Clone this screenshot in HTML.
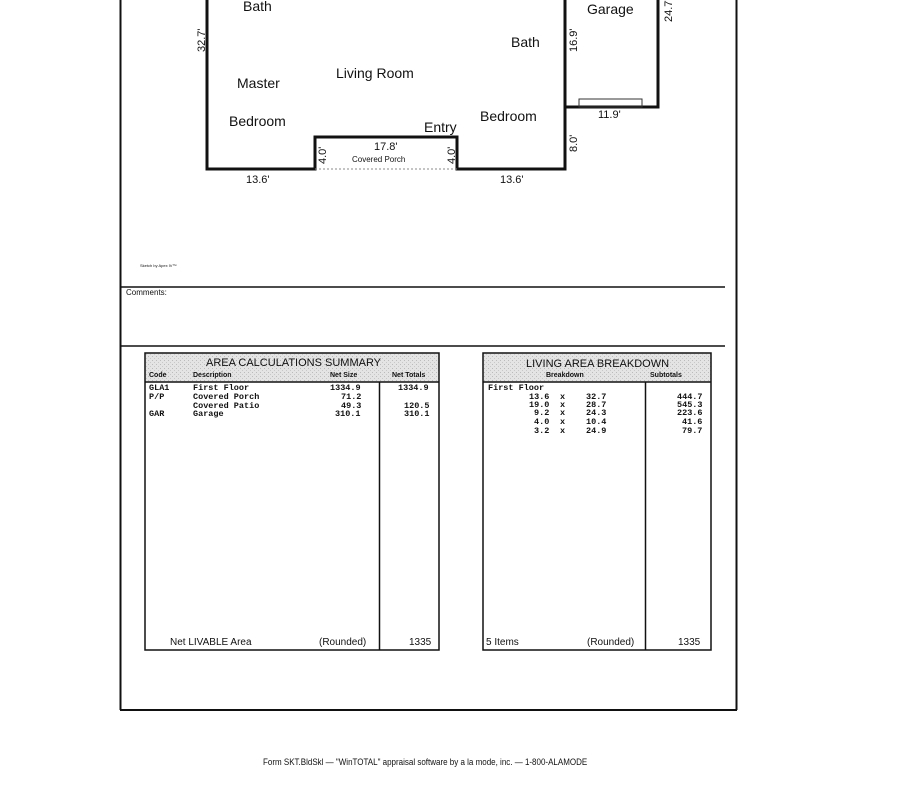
<!DOCTYPE html>
<html><head><meta charset="utf-8"><style>
html,body{margin:0;padding:0;background:#fff;}
svg{display:block;}
.s{font-family:"Liberation Sans",sans-serif;fill:#111;}
.m{font-family:"Liberation Mono",monospace;fill:#111;font-weight:bold;}
</style></head><body>
<svg width="900" height="787" viewBox="0 0 900 787" xmlns="http://www.w3.org/2000/svg">
<defs>
<pattern id="g" width="4" height="4" patternUnits="userSpaceOnUse"><rect width="4" height="4" fill="#e4e4e4"/><rect x="0" y="0" width="1" height="1" fill="#bbb"/><rect x="2" y="2" width="1" height="1" fill="#c8c8c8"/></pattern>
</defs>
<line x1="120.5" y1="0" x2="120.5" y2="710" stroke="#111" stroke-width="2"/>
<line x1="736.5" y1="0" x2="736.5" y2="710" stroke="#111" stroke-width="2"/>
<line x1="120" y1="710" x2="737" y2="710" stroke="#111" stroke-width="2"/>
<line x1="120" y1="287" x2="725" y2="287" stroke="#111" stroke-width="1.5"/>
<line x1="120" y1="346" x2="725" y2="346" stroke="#111" stroke-width="1.5"/>
<text class="s" x="140" y="267" font-size="4">Sketch by Apex IV™</text>
<text class="s" x="126" y="295" font-size="8">Comments:</text>
<polyline points="207,0 207,169 315,169 315,137 457,137 457,169 565,169 565,0" fill="none" stroke="#111" stroke-width="3"/>
<line x1="315" y1="169" x2="457" y2="169" stroke="#888" stroke-width="1" stroke-dasharray="2,2"/>
<polyline points="565,107 658,107 658,0" fill="none" stroke="#111" stroke-width="3"/>
<rect x="579" y="99" width="63" height="8" fill="none" stroke="#333" stroke-width="1"/>
<text class="s" x="243" y="11" font-size="14">Bath</text>
<text class="s" x="587" y="14" font-size="14">Garage</text>
<text class="s" x="511" y="47" font-size="14">Bath</text>
<text class="s" x="336" y="78" font-size="14">Living Room</text>
<text class="s" x="237" y="88" font-size="14">Master</text>
<text class="s" x="229" y="126" font-size="14">Bedroom</text>
<text class="s" x="480" y="121" font-size="14">Bedroom</text>
<text class="s" x="424" y="132" font-size="14">Entry</text>
<text class="s" x="374" y="150" font-size="11">17.8'</text>
<text class="s" x="352" y="162" font-size="8">Covered Porch</text>
<text class="s" x="246" y="183" font-size="11">13.6'</text>
<text class="s" x="500" y="183" font-size="11">13.6'</text>
<text class="s" x="598" y="118" font-size="11">11.9'</text>
<text class="s" font-size="11" transform="translate(205,52) rotate(-90)">32.7'</text>
<text class="s" font-size="11" transform="translate(326,164) rotate(-90)">4.0'</text>
<text class="s" font-size="11" transform="translate(455,164) rotate(-90)">4.0'</text>
<text class="s" font-size="11" transform="translate(577,52) rotate(-90)">16.9'</text>
<text class="s" font-size="11" transform="translate(577,152) rotate(-90)">8.0'</text>
<text class="s" font-size="11" transform="translate(672,22) rotate(-90)">24.7'</text>
<rect x="145" y="353" width="294" height="29" fill="url(#g)"/>
<rect x="145" y="353" width="294" height="297" fill="none" stroke="#111" stroke-width="1.5"/>
<line x1="145" y1="382" x2="439" y2="382" stroke="#111" stroke-width="1.5"/>
<line x1="379.5" y1="382" x2="379.5" y2="650" stroke="#111" stroke-width="1.5"/>
<text class="s" x="206" y="366" font-size="11">AREA  CALCULATIONS  SUMMARY</text>
<text class="s" x="149" y="377" font-size="7" font-weight="bold">Code</text>
<text class="s" x="193" y="377" font-size="7" font-weight="bold">Description</text>
<text class="s" x="330" y="377" font-size="7" font-weight="bold">Net Size</text>
<text class="s" x="392" y="377" font-size="7" font-weight="bold">Net Totals</text>
<g class="m" font-size="8.5">
<text x="149" y="390">GLA1</text><text x="193" y="390">First Floor</text><text x="330" y="390">1334.9</text><text x="398" y="390">1334.9</text>
<text x="149" y="399">P/P</text><text x="193" y="399">Covered Porch</text><text x="341" y="399">71.2</text>
<text x="193" y="408">Covered Patio</text><text x="341" y="408">49.3</text><text x="404" y="408">120.5</text>
<text x="149" y="416">GAR</text><text x="193" y="416">Garage</text><text x="335" y="416">310.1</text><text x="404" y="416">310.1</text>
</g>
<text class="s" x="170" y="645" font-size="10">Net LIVABLE Area</text>
<text class="s" x="319" y="645" font-size="10">(Rounded)</text>
<text class="s" x="409" y="645" font-size="10">1335</text>
<rect x="483" y="353" width="228" height="29" fill="url(#g)"/>
<rect x="483" y="353" width="228" height="297" fill="none" stroke="#111" stroke-width="1.5"/>
<line x1="483" y1="382" x2="711" y2="382" stroke="#111" stroke-width="1.5"/>
<line x1="645.5" y1="382" x2="645.5" y2="650" stroke="#111" stroke-width="1.5"/>
<text class="s" x="526" y="367" font-size="11">LIVING  AREA  BREAKDOWN</text>
<text class="s" x="546" y="377" font-size="7" font-weight="bold">Breakdown</text>
<text class="s" x="650" y="377" font-size="7" font-weight="bold">Subtotals</text>
<g class="m" font-size="8.5">
<text x="488" y="390">First Floor</text>
<text x="529" y="399">13.6</text><text x="560" y="399">x</text><text x="586" y="399">32.7</text><text x="677" y="399">444.7</text>
<text x="529" y="407">19.0</text><text x="560" y="407">x</text><text x="586" y="407">28.7</text><text x="677" y="407">545.3</text>
<text x="534" y="415">9.2</text><text x="560" y="415">x</text><text x="586" y="415">24.3</text><text x="677" y="415">223.6</text>
<text x="534" y="424">4.0</text><text x="560" y="424">x</text><text x="586" y="424">10.4</text><text x="682" y="424">41.6</text>
<text x="534" y="433">3.2</text><text x="560" y="433">x</text><text x="586" y="433">24.9</text><text x="682" y="433">79.7</text>
</g>
<text class="s" x="486" y="645" font-size="10">5 Items</text>
<text class="s" x="587" y="645" font-size="10">(Rounded)</text>
<text class="s" x="678" y="645" font-size="10">1335</text>
<text class="s" x="263" y="765" font-size="9" transform="translate(263,765) scale(0.89,1.05) translate(-263,-765)">Form SKT.BldSkl — "WinTOTAL" appraisal software by a la mode, inc. — 1-800-ALAMODE</text>
</svg>
</body></html>
